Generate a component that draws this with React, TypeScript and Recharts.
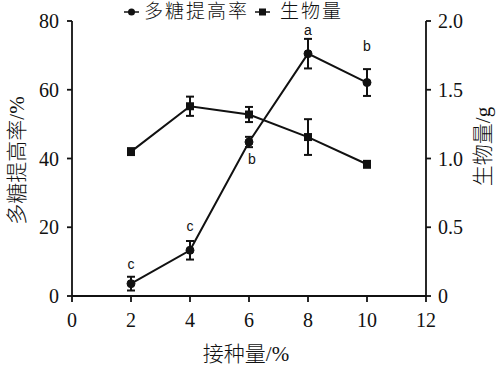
import React from 'react';
import { LineChart, Line, XAxis, YAxis, ErrorBar, Legend, LabelList, Label } from 'recharts';

const doses = [2, 4, 6, 8, 10];
const rate = [3.6, 13.3, 44.8, 70.5, 62.1];
const rateErr = [2.0, 2.7, 1.5, 4.3, 3.9];
const biomass = [1.05, 1.38, 1.32, 1.156, 0.958];
const bioErr = [0.025, 0.07, 0.055, 0.13, 0.025];
const letters = ['c', 'c', 'b', 'a', 'b'];

const xTicks = [0, 2, 4, 6, 8, 10, 12];
const leftTicks = [0, 20, 40, 60, 80];
const rightTicks = [0, 0.5, 1.0, 1.5, 2.0];

const seriesNames = ['多糖提高率', '生物量'];
const xTitle = '接种量/%';
const leftTitle = '多糖提高率/%';
const rightTitle = '生物量/g';

const rows = doses.map((d, i) => ({
  dose: d,
  rate: rate[i],
  rateErr: rateErr[i],
  biomass: biomass[i],
  bioErr: bioErr[i],
  letter: letters[i],
}));

const SERIF = "'Liberation Serif', 'Times New Roman', 'Noto Sans CJK SC', serif";
const SANS = "'Liberation Sans', Arial, sans-serif";
const INK = '#111';

// label offsets (style only)
const letterDx = [0, 0, 3, 0, 0];
const letterDy = [-20, -24, 17, -24, -37];

const LetterLabel = (props: any) => {
  const { x, y, index, value } = props;
  return (
    <text x={x + letterDx[index]} y={y + letterDy[index]} textAnchor="middle" dominantBaseline="central"
      fontFamily={SANS} fontSize={14} fill={INK}>{value}</text>
  );
};

const SquareDot = (props: any) => {
  const { cx, cy } = props;
  if (cx == null || cy == null) return null;
  return <rect x={cx - 4} y={cy - 4} width={8} height={8} fill={INK} stroke="none" />;
};

const LegendContent = () => (
  <div style={{ height: 21, boxSizing: 'border-box', paddingTop: 2, display: 'flex', alignItems: 'center', paddingLeft: 124, fontFamily: SERIF, fontSize: 19, fontWeight: 300, color: INK, lineHeight: '19px' }}>
    <svg width={15} height={10} style={{ marginRight: 5 }}>
      <line x1={0} y1={5} x2={15} y2={5} stroke={INK} strokeWidth={1.5} />
      <circle cx={7.5} cy={5} r={3.5} fill={INK} />
    </svg>
    <span style={{ letterSpacing: 2 }}>{seriesNames[0]}</span>
    <svg width={15} height={10} style={{ marginLeft: 6, marginRight: 10 }}>
      <line x1={0} y1={5} x2={15} y2={5} stroke={INK} strokeWidth={1.5} />
      <rect x={4} y={1.5} width={7} height={7} fill={INK} />
    </svg>
    <span style={{ letterSpacing: 2 }}>{seriesNames[1]}</span>
  </div>
);

const RotTitle = (text: string, dxFromX: number, dyFromMid: number) => (props: any) => {
  const vb = props.viewBox || {};
  const cx = vb.x + dxFromX;
  const cy = vb.y + vb.height / 2 + dyFromMid;
  return (
    <text x={cx} y={cy} textAnchor="middle" dominantBaseline="central" transform={`rotate(-90, ${cx}, ${cy})`}
      fontFamily={SERIF} fontSize={21} fontWeight={300} fill={INK}>{text}</text>
  );
};

const XTitle = (props: any) => {
  const vb = props.viewBox || {};
  const cx = vb.x + vb.width / 2 - 3;
  const cy = vb.y + 58;
  return (
    <text x={cx} y={cy} textAnchor="middle" dominantBaseline="central" fontFamily={SERIF} fontSize={21} fontWeight={300} fill={INK}>{xTitle}</text>
  );
};

const tickStyle = { fontFamily: SERIF, fontSize: 20, fill: INK };
const axisLine = { stroke: INK, strokeWidth: 1.8 };
const tickLine = { stroke: INK, strokeWidth: 1.8 };

export default function App() {
  return (
    <div style={{ position: 'absolute', left: 0, top: 0, width: 500, height: 366, background: '#fff' }}>
      <LineChart width={500} height={366} data={rows} margin={{ top: 0, right: 0, bottom: 0, left: 0 }}>
        <Legend verticalAlign="top" align="left" content={<LegendContent />} wrapperStyle={{ top: 0, left: 0, width: 500, height: 21 }} />
        <XAxis dataKey="dose" type="number" domain={[0, 12]} ticks={xTicks} interval={0} height={70}
          tick={tickStyle} tickSize={6} tickMargin={11} axisLine={axisLine} tickLine={tickLine}>
          <Label content={XTitle} />
        </XAxis>
        <YAxis yAxisId="left" domain={[0, 80]} ticks={leftTicks} interval={0} width={72}
          tick={tickStyle} tickSize={5} tickMargin={8} axisLine={axisLine} tickLine={tickLine}>
          <Label content={RotTitle(leftTitle, 17, 2)} />
        </YAxis>
        <YAxis yAxisId="right" orientation="right" domain={[0, 2]} ticks={rightTicks} interval={0} width={74}
          tickFormatter={(v: number) => (v === 0 ? '0' : v.toFixed(1))}
          tick={tickStyle} tickSize={5} tickMargin={7} axisLine={axisLine} tickLine={tickLine}>
          <Label content={RotTitle(rightTitle, 57, -12)} />
        </YAxis>
        <Line yAxisId="right" dataKey="biomass" name={seriesNames[1]} stroke={INK} strokeWidth={2}
          dot={<SquareDot />} activeDot={false} isAnimationActive={false}>
          <ErrorBar dataKey="bioErr" direction="y" width={4} stroke={INK} strokeWidth={2} />
        </Line>
        <Line yAxisId="left" dataKey="rate" name={seriesNames[0]} stroke={INK} strokeWidth={2}
          dot={{ r: 4, fill: INK, stroke: INK, strokeWidth: 1 }} activeDot={false} isAnimationActive={false}>
          <ErrorBar dataKey="rateErr" direction="y" width={4} stroke={INK} strokeWidth={2} />
          <LabelList dataKey="letter" content={<LetterLabel />} />
        </Line>
      </LineChart>
    </div>
  );
}
